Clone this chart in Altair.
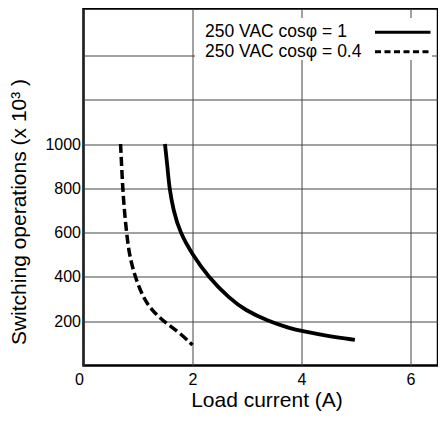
import altair as alt
import pandas as pd

# Data
cur_pf1 = [1.495, 1.54, 1.575, 1.65, 1.77, 2.0, 2.29, 2.69, 2.96, 3.39, 3.79, 4.0, 4.52, 4.98]
ops_pf1 = [1000, 900, 800, 700, 600, 500, 400, 300, 251, 200, 168, 156, 131, 116]
cur_pf04 = [0.68, 0.70, 0.72, 0.75, 0.79, 0.84, 0.945, 1.10, 1.25, 1.465, 1.74, 2.0]
ops_pf04 = [1000, 900, 800, 700, 600, 500, 400, 304, 251, 200, 153, 93]
series_names = ["250 VAC cosφ = 1", "250 VAC cosφ = 0.4"]
x_ticks = [0, 2, 4, 6]
y_ticks = [200, 400, 600, 800, 1000, 1200, 1400]

FONT = "Liberation Sans"

df = pd.DataFrame({"current": cur_pf1, "ops": ops_pf1, "series": series_names[0]})
df2 = pd.DataFrame({"current": cur_pf04, "ops": ops_pf04, "series": series_names[1]})

xenc = alt.X(
    "current:Q",
    scale=alt.Scale(domain=[0, 6.505], nice=False, zero=False),
    axis=alt.Axis(
        values=x_ticks, grid=True, ticks=False, domain=False, format="d",
        labelFlush=False,
        labelAlign={"condition": {"test": "datum.value === 0", "value": "right"}, "value": "center"},
        labelFontSize=16, labelPadding=6, labelFont=FONT, labelColor="black",
        title="Load current (A)", titleFontSize=21, titleFont=FONT,
        titleFontWeight="normal", titleColor="black",
        titleBaseline="alphabetic", titleY=41, titleX=183, titleAlign="center",
    ),
)
yenc = alt.Y(
    "ops:Q",
    scale=alt.Scale(domain=[0, 1612], nice=False),
    axis=alt.Axis(
        values=y_ticks, grid=True, ticks=False, domain=False,
        labelExpr="datum.value <= 1000 ? datum.label : ''",
        format="d",
        labelFontSize=16, labelPadding=3, labelFont=FONT, labelColor="black",
        title="Switching operations (x 10³ )", titleFontSize=21, titleFont=FONT,
        titleFontWeight="normal", titleColor="black",
        titleBaseline="alphabetic", titleX=-58, titleY=203, titleAngle=-90,
    ),
)

line1 = alt.Chart(df).mark_line(
    color="black", strokeWidth=3.8, interpolate="basis"
).encode(x=xenc, y=yenc)

line2 = alt.Chart(df2).mark_line(
    color="black", strokeWidth=3.5, interpolate="basis", strokeDash=[9, 4]
).encode(x="current:Q", y="ops:Q")

one = pd.DataFrame({"a": [0]})

legend_box = alt.Chart(one).mark_rect(color="white").encode(
    x=alt.value(111.5), x2=alt.value(348.5), y=alt.value(9.5), y2=alt.value(51.5)
)
legend_t1 = alt.Chart(one).mark_text(
    align="left", baseline="alphabetic", fontSize=17.5, font=FONT, color="black"
).encode(x=alt.value(121.5), y=alt.value(28.2), text=alt.value(series_names[0]))
legend_t2 = alt.Chart(one).mark_text(
    align="left", baseline="alphabetic", fontSize=17.5, font=FONT, color="black"
).encode(x=alt.value(121.5), y=alt.value(48.2), text=alt.value(series_names[1]))
legend_l1 = alt.Chart(one).mark_rule(color="black", strokeWidth=3).encode(
    x=alt.value(291.5), x2=alt.value(347), y=alt.value(23.8)
)
legend_l2 = alt.Chart(one).mark_rule(
    color="black", strokeWidth=3, strokeDash=[6, 3.5]
).encode(x=alt.value(291.5), x2=alt.value(347), y=alt.value(43.2))

chart = alt.layer(
    line1, line2, legend_box, legend_t1, legend_t2, legend_l1, legend_l2
).properties(
    width=354.5,
    height=357,
    autosize=alt.AutoSizeParams(type="none"),
    padding={"left": 75.5, "top": 0.5, "right": 0, "bottom": 47.5},
).configure_view(
    stroke="black", strokeWidth=2.5
).configure_axis(
    gridColor="#444", gridWidth=1, gridOpacity=1
)

chart.save("out.html", embed_options={"renderer": "svg", "actions": False})
